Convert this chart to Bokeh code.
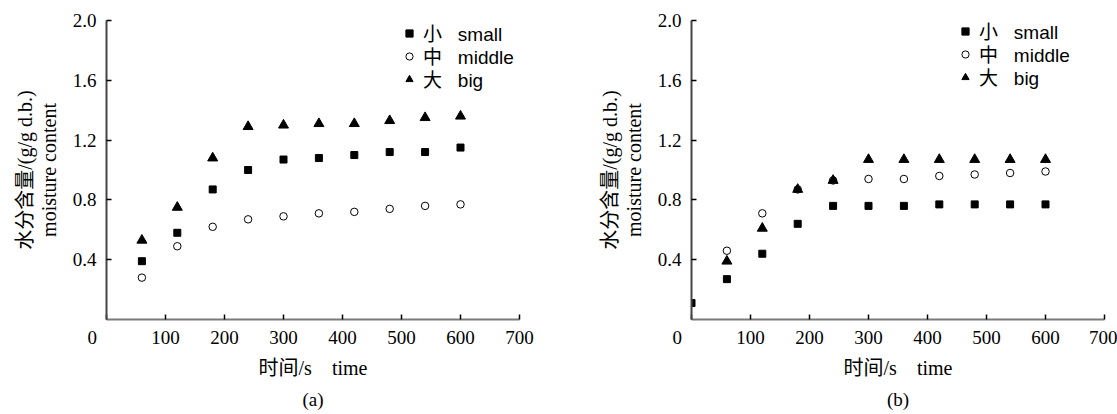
from bokeh.plotting import figure
from bokeh.layouts import row
from bokeh.models import Range1d, Legend, LegendItem, Title, FixedTicker
from bokeh.embed import file_html
from bokeh.resources import INLINE

# ---- data ----
time_a = [60, 120, 180, 240, 300, 360, 420, 480, 540, 600]
small_a = [0.39, 0.58, 0.87, 1.00, 1.07, 1.08, 1.10, 1.12, 1.12, 1.15]
middle_a = [0.28, 0.49, 0.62, 0.67, 0.69, 0.71, 0.72, 0.74, 0.76, 0.77]
big_a = [0.53, 0.75, 1.08, 1.29, 1.30, 1.31, 1.31, 1.33, 1.35, 1.36]

time_b_small = [0, 60, 120, 180, 240, 300, 360, 420, 480, 540, 600]
small_b = [0.11, 0.27, 0.44, 0.64, 0.76, 0.76, 0.76, 0.77, 0.77, 0.77, 0.77]
time_b = [60, 120, 180, 240, 300, 360, 420, 480, 540, 600]
middle_b = [0.46, 0.71, 0.87, 0.93, 0.94, 0.94, 0.96, 0.97, 0.98, 0.99]
big_b = [0.39, 0.61, 0.87, 0.93, 1.07, 1.07, 1.07, 1.07, 1.07, 1.07]

x_ticks = [0, 100, 200, 300, 400, 500, 600, 700]
x_tick_labels = ["0" + "\u00a0" * 6, "100", "200", "300", "400", "500", "600", "700"]
y_ticks = [0.4, 0.8, 1.2, 1.6, 2.0]
y_tick_labels = ["0.4", "0.8", "1.2", "1.6", "2.0"]
legend_labels = ["小\u00a0\u00a0\u00a0small", "中\u00a0\u00a0\u00a0middle", "大\u00a0\u00a0\u00a0big"]
y_title = "水分含量/(g/g d.b.)\nmoisture content"
x_title = "时间/s\u00a0\u00a0\u00a0\u00a0time"

SERIF = "Liberation Serif"
SERIF_CJK = "Liberation Serif, Noto Sans CJK SC"
SANS_CJK = "Liberation Sans, Noto Sans CJK SC"


def make_panel(tag, ts, s, tm, m, tb, b, width, left, right, legend_x, legend_ys):
    p = figure(width=width, height=414, output_backend="svg", toolbar_location=None,
               x_range=Range1d(0, 700), y_range=Range1d(0, 2.0),
               min_border_left=left, min_border_right=right,
               min_border_top=20, min_border_bottom=95)
    p.grid.visible = False
    p.outline_line_color = None
    p.background_fill_color = "white"
    p.border_fill_color = "white"

    r_s = p.scatter(ts, s, marker="square", size=7, fill_color="black", line_color="black")
    r_m = p.scatter(tm, m, marker="circle", size=7.5, fill_color="white", line_color="black",
                    line_width=1)
    r_b = p.scatter(tb, b, marker="triangle", size=10, fill_color="black", line_color="black")

    xa = p.xaxis[0]
    xa.ticker = FixedTicker(ticks=x_ticks)
    xa.major_label_overrides = {t: l for t, l in zip(x_ticks, x_tick_labels)}
    xa.major_tick_in = 5
    xa.major_tick_out = 0
    xa.minor_tick_in = 0
    xa.minor_tick_out = 0
    xa.major_tick_line_color = "black"
    xa.major_tick_line_width = 1.5
    xa.axis_line_color = "#7a7a7a"
    xa.axis_line_width = 2
    xa.major_label_text_font = SERIF
    xa.major_label_text_font_size = "19px"
    xa.major_label_text_color = "black"
    xa.major_label_standoff = 7
    xa.axis_label = x_title
    xa.axis_label_text_font = SERIF_CJK
    xa.axis_label_text_font_size = "20px"
    xa.axis_label_text_font_style = "normal"
    xa.axis_label_text_color = "black"
    xa.axis_label_standoff = 6

    ya = p.yaxis[0]
    ya.ticker = FixedTicker(ticks=y_ticks)
    ya.major_label_overrides = {t: l for t, l in zip(y_ticks, y_tick_labels)}
    ya.major_tick_in = 5
    ya.major_tick_out = 0
    ya.minor_tick_in = 0
    ya.minor_tick_out = 0
    ya.major_tick_line_color = "black"
    ya.major_tick_line_width = 1.5
    ya.axis_line_color = "#444444"
    ya.axis_line_width = 2
    ya.major_label_text_font = SERIF
    ya.major_label_text_font_size = "19px"
    ya.major_label_text_color = "black"
    ya.major_label_standoff = 10
    ya.axis_label = y_title
    ya.axis_label_text_font = SERIF_CJK
    ya.axis_label_text_font_size = "20px"
    ya.axis_label_text_font_style = "normal"
    ya.axis_label_text_color = "black"
    ya.axis_label_text_line_height = 1.1
    ya.axis_label_standoff = 10

    for lab, rend, ly in zip(legend_labels, [r_s, r_m, r_b], legend_ys):
        legend = Legend(items=[LegendItem(label=lab, renderers=[rend])],
                        location=(legend_x, ly), orientation="vertical",
                        border_line_color=None, background_fill_alpha=0,
                        padding=0, margin=0, spacing=0,
                        glyph_width=18, glyph_height=20, label_height=20,
                        label_standoff=5, label_text_font=SANS_CJK,
                        label_text_font_size="19px", label_text_color="black")
        p.add_layout(legend)

    p.add_layout(Title(text=tag, align="center", text_font=SERIF, text_font_size="19px",
                       text_font_style="normal", text_color="black", standoff=10), "below")
    return p


pa = make_panel("(a)", time_a, small_a, time_a, middle_a, time_a, big_a,
                width=561, left=106, right=42, legend_x=294, legend_ys=[273, 250, 227])
pb = make_panel("(b)", time_b_small, small_b, time_b, middle_b, time_b, big_b,
                width=556, left=130, right=13, legend_x=265, legend_ys=[275, 252, 229])

layout = row(pa, pb)
open("out.html", "w").write(file_html(layout, INLINE))
